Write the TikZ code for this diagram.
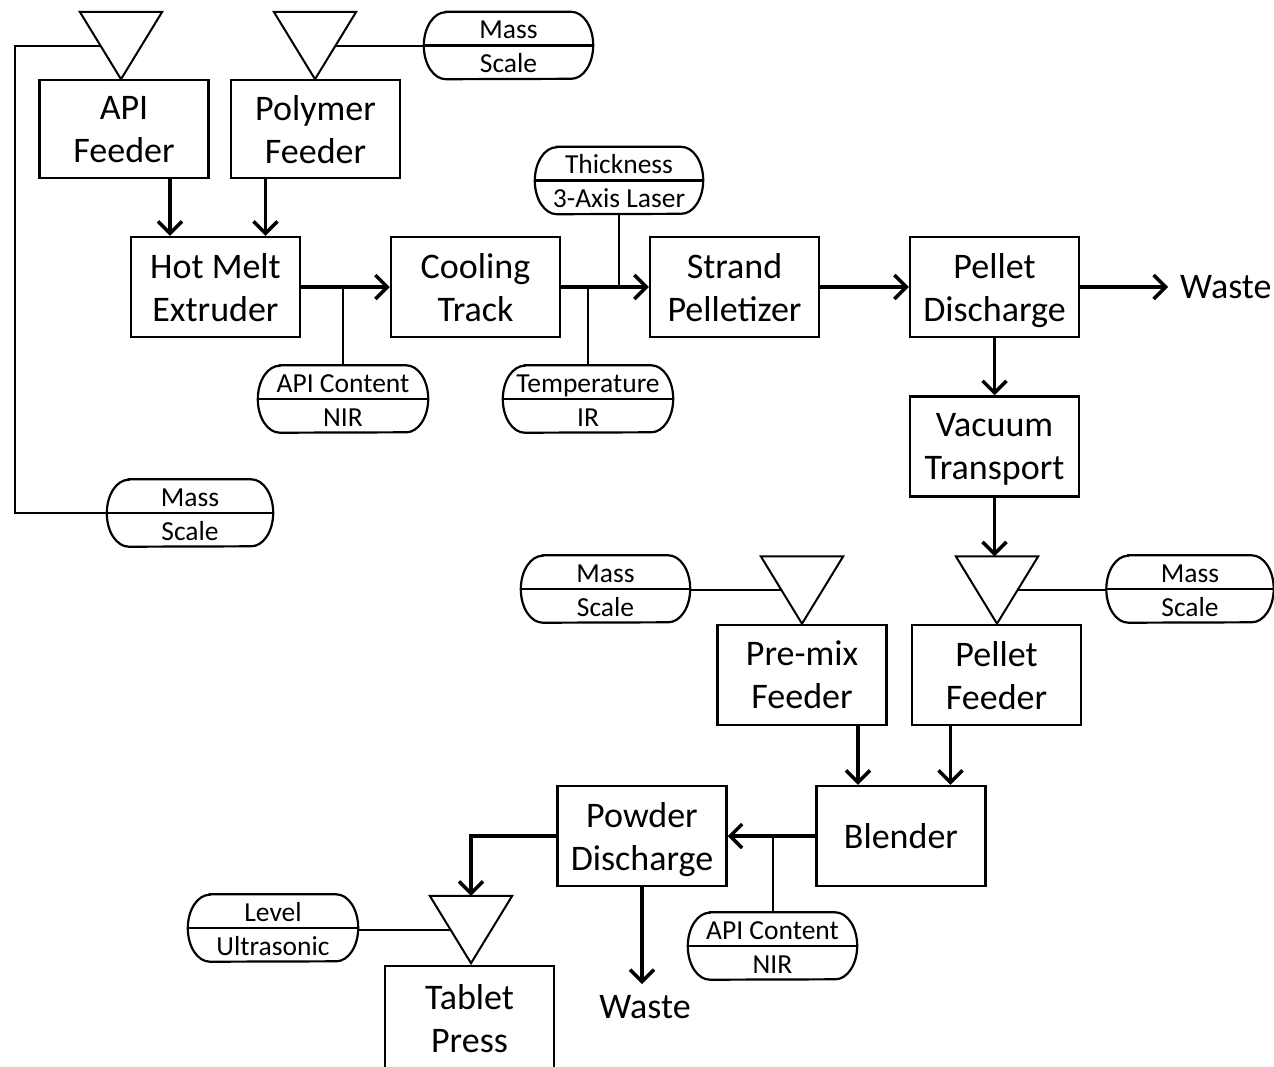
\documentclass[tikz,border=0pt]{standalone}
\usepackage{fontspec}
\setmainfont{Carlito}
\usetikzlibrary{arrows.meta,calc}

\tikzset{
  stage/.style={draw, line width=2.5pt, minimum width=169pt, minimum height=100pt,
    inner sep=0pt, align=center, text depth=0pt, font=\fontsize{36}{43}\selectfont},
  hopper/.style={minimum width=82pt, minimum height=67pt, inner sep=0pt},
  hopperline/.style={line width=2pt, line join=miter},
  probe/.style={minimum height=67pt, inner sep=0pt},
  probeline/.style={line width=2.2pt},
  probetext/.style={inner sep=0pt, anchor=base, font=\fontsize{27.5}{34}\selectfont},
  flow/.style={line width=3.5pt, -{Straight Barb[length=12pt,width=24pt]}},
  tap/.style={line width=2pt},
  outlet/.style={font=\fontsize{36}{43}\selectfont},
}

% inverted hopper triangle: name, x, y
\newcommand\hopperat[3]{%
  \node[hopper] (#1) at (#2,#3) {};
  \draw[hopperline] (#1.north west) -- (#1.north east) -- (#1.south) -- cycle;
  \coordinate (#1-l) at ($(#1.north west)!0.5!(#1.south)$);
  \coordinate (#1-r) at ($(#1.north east)!0.5!(#1.south)$);
}

% measurement probe: name, x, y, width, upper text, lower text
\newcommand\probeat[6]{%
  \node[probe, minimum width=#4pt] (#1) at (#2,#3) {};
  \draw[probeline] ($(#1.north west)+(22,0)$) -- ($(#1.north east)+(-22,0)$)
     arc[start angle=90, end angle=-90, x radius=22, y radius=33.5]
     -- ($(#1.south west)+(22,0)$)
     arc[start angle=270, end angle=90, x radius=22, y radius=33.5] -- cycle;
  \draw[probeline] (#1.west) -- (#1.east);
  \node[probetext] (#1-a) at ($(#1.center)+(0,7)$) {#5};
  \node[probetext] (#1-b) at ($(#1.center)+(0,-27)$) {#6};
}

\begin{document}
\begin{tikzpicture}[x=1pt,y=1pt]
\useasboundingbox (0,0) rectangle (1274,-1066);
\clip (0,0) rectangle (1274,-1066);

% process stages
\node[stage, minimum height=98pt] (apif) at (124,-129) {API\\Feeder};
\node[stage, minimum height=98pt] (polf) at (315.5,-129) {Polymer\\Feeder};
\node[stage] (hme)  at (215.5,-287) {Hot Melt\\Extruder};
\node[stage] (ct)   at (475.5,-287) {Cooling\\Track};
\node[stage] (sp)   at (734.5,-287) {Strand\\Pelletizer};
\node[stage] (pdis) at (994.5,-287) {Pellet\\Discharge};
\node[stage] (vt)   at (994.5,-446.5) {Vacuum\\Transport};
\node[stage] (pmf)  at (802,-675) {Pre-mix\\Feeder};
\node[stage] (plf)  at (996.5,-675) {Pellet\\Feeder};
\node[stage] (bl)   at (901,-836) {Blender};
\node[stage] (pwd)  at (642,-836) {Powder\\Discharge};
\node[stage, minimum height=104pt] (tp) at (469.5,-1018) {Tablet\\Press};

% hoppers
\hopperat{h1}{121}{-45.5}
\hopperat{h2}{315}{-45.5}
\hopperat{h3}{802}{-590}
\hopperat{h4}{997}{-590}
\hopperat{h5}{471}{-929.5}

% probes
\probeat{ms1}{508.5}{-45.5}{169}{Mass}{Scale}
\probeat{ms4}{190}{-513}{166}{Mass}{Scale}
\probeat{ac1}{343}{-399}{170}{API Content}{NIR}
\probeat{tmp}{588}{-399}{170}{Temperature}{IR}
\probeat{thk}{619}{-180.5}{168}{Thickness}{3-Axis Laser}
\probeat{ms2}{605.5}{-589}{169}{Mass}{Scale}
\probeat{ms3}{1190}{-589}{167}{Mass}{Scale}
\probeat{ac2}{772.5}{-946}{169}{API Content}{NIR}
\probeat{lvl}{273}{-928}{170}{Level}{Ultrasonic}

% outlets
\node[outlet, anchor=west, inner xsep=12pt, inner ysep=0pt] (waste1) at (1168,-287) {Waste};
\node[outlet, inner xsep=0pt, inner ysep=11pt] (waste2) at (645,-1007) {Waste};

% probe taps
\coordinate (loop) at (15,-513);
\draw[tap] (h1-l) -| (loop) -- (ms4.west);
\draw[tap] (h2-r) -- (h2-r -| ms1.west);
\draw[tap] (ac1.north) -- (ac1.north |- hme.east);
\draw[tap] (tmp.north) -- (tmp.north |- ct.east);
\draw[tap] (thk.south) -- (thk.south |- ct.east);
\draw[tap] (h4-r) -- (h4-r -| ms3.west);
\draw[tap] (h3-l) -- (h3-l -| ms2.east);
\draw[tap] (ac2.north) -- (ac2.north |- bl.west);
\draw[tap] (h5-l) -- (h5-l -| lvl.east);

% material flow
\draw[flow] ([xshift=46pt]apif.south) -- ([xshift=46pt]apif.south |- hme.north);
\draw[flow] ([xshift=-50pt]polf.south) -- ([xshift=-50pt]polf.south |- hme.north);
\draw[flow] (hme.east) -- (ct.west);
\draw[flow] (ct.east) -- (sp.west);
\draw[flow] (sp.east) -- (pdis.west);
\draw[flow] (pdis.east) -- (pdis.east -| waste1.west);
\draw[flow] (pdis.south) -- (vt.north);
\draw[flow] (vt.south) -- (vt.south |- h4.north);
\draw[flow] ([xshift=56pt]pmf.south) -- ([xshift=56pt]pmf.south |- bl.north);
\draw[flow] ([xshift=-46pt]plf.south) -- ([xshift=-46pt]plf.south |- bl.north);
\draw[flow] (bl.west) -- (pwd.east);
\draw[flow] (pwd.west) -| (h5.north);
\draw[flow] (pwd.south) -- (pwd.south |- waste2.north);
\end{tikzpicture}
\end{document}
